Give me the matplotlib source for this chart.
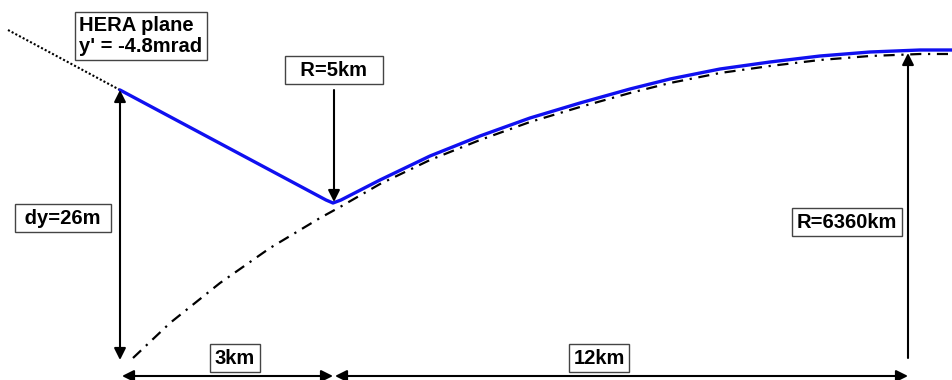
import matplotlib.pyplot as plt

plt.rcParams['font.family'] = ['Liberation Sans', 'DejaVu Sans']

# schematic coordinates (not to scale), y grows downwards
hera_x = [8, 120]
hera_y = [30, 90]

beam_x = [120, 326, 333, 341, 380, 430, 480, 530, 580, 630, 670, 720, 770, 820, 870, 920, 953]
beam_y = [90, 200, 203, 200, 180, 156, 136, 118, 103, 89, 79, 69, 62, 56, 52, 50, 50]

earth_x = [133, 170, 220, 270, 320, 340, 380, 430, 480, 530, 580, 630, 670, 720, 770, 820, 870, 920, 953]
earth_y = [358, 323, 283, 248, 218, 207, 184, 160, 140, 122, 107, 93, 83, 73, 66, 60, 56, 54, 54]

labels = ["HERA plane\ny' = -4.8mrad", '  R=5km  ', ' dy=26m ', '3km', '12km', 'R=6360km']
label_x = [79, 334, 63, 235, 599, 847]
label_y = [36, 70, 218, 358, 358, 222]
label_ha = ['left', 'center', 'center', 'center', 'center', 'center']

# arrows: (x_start, y_start, x_end, y_end, style)
arrows = [
    (120, 90, 120, 360, '<|-|>'),
    (334, 90, 334, 202, '-|>'),
    (122, 376, 333, 376, '<|-|>'),
    (335, 376, 908, 376, '<|-|>'),
    (908, 358, 908, 53, '-|>'),
]

fig = plt.figure(figsize=(9.53, 3.80), dpi=100)
ax = fig.add_axes([0, 0, 1, 1])
ax.set_xlim(0, 953)
ax.set_ylim(380, 0)
ax.axis('off')

ax.plot(earth_x, earth_y, color='black', lw=1.6, linestyle=(0, (5, 3, 1, 3)))
ax.plot(hera_x, hera_y, color='black', lw=1.5, linestyle=(0, (1, 1)))
ax.plot(beam_x, beam_y, color='#1010f0', lw=2.4, solid_joinstyle='round',
        solid_capstyle='round')

for x0, y0, x1, y1, st in arrows:
    ax.annotate('', xy=(x1, y1), xytext=(x0, y0),
                arrowprops=dict(arrowstyle=st + ',head_length=0.7,head_width=0.35',
                                color='black', lw=1.5, shrinkA=0, shrinkB=0))

for t, x, y, ha in zip(labels, label_x, label_y, label_ha):
    ax.text(x, y, t, ha=ha, va='center', fontsize=14.5, fontweight='bold',
            linespacing=1.1,
            bbox=dict(boxstyle='square,pad=0.22', fc='white', ec='#444444', lw=1))

fig.savefig('out.png', dpi=100)
